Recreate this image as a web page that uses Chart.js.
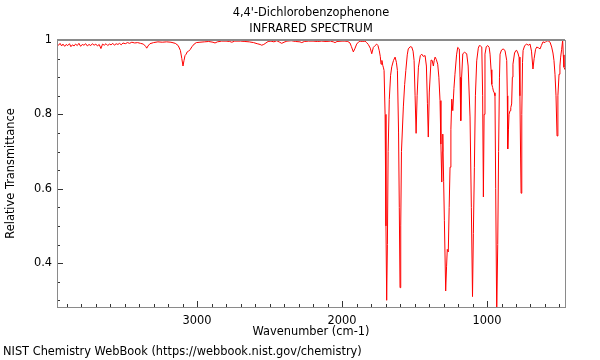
<!DOCTYPE html>
<html>
<head>
<meta charset="utf-8">
<script src="https://cdn.jsdelivr.net/npm/chart.js@4"></script>
<style>
  body { margin: 0; background: #fff; }
</style>
</head>
<body>
<canvas id="irChart" width="600" height="360"></canvas>
<script>
var titleLines = ["4,4'-Dichlorobenzophenone", 'INFRARED SPECTRUM'];
var xTitle = 'Wavenumber (cm-1)';
var yTitle = 'Relative Transmittance';
var footerText = 'NIST Chemistry WebBook (https://webbook.nist.gov/chemistry)';

var xTicks = [3000, 2000, 1000];
var yTicks = [1, 0.8, 0.6, 0.4];

// spectrum (cm-1, transmittance)
var wavenumber = [
  3966, 3955, 3945, 3934, 3925, 3913, 3903, 3892, 3880, 3870, 3860, 3848, 3838, 3826, 3815, 3803,
  3792, 3780, 3768, 3757, 3745, 3733, 3722, 3710, 3698, 3687, 3675, 3663, 3652, 3640, 3628, 3616,
  3605, 3593, 3581, 3570, 3558, 3546, 3535, 3523, 3511, 3495, 3480, 3465, 3450, 3430, 3410, 3390,
  3370, 3355, 3347, 3338, 3325, 3300, 3270, 3240, 3210, 3180, 3150, 3130, 3115, 3105, 3097, 3090,
  3083, 3075, 3068, 3058, 3048, 3035, 3020, 3005, 2980, 2950, 2920, 2890, 2876, 2860, 2830, 2800,
  2775, 2760, 2740, 2700, 2670, 2640, 2610, 2585, 2565, 2554, 2540, 2525, 2510, 2490, 2470, 2450,
  2430, 2416, 2400, 2380, 2350, 2320, 2290, 2278, 2260, 2230, 2200, 2170, 2140, 2110, 2080, 2060,
  2048, 2035, 2000, 1980, 1960, 1945, 1935, 1922, 1910, 1899, 1885, 1876, 1860, 1841, 1830, 1819,
  1805, 1795, 1784, 1772, 1761, 1752, 1743, 1736, 1731, 1725, 1719, 1714, 1710, 1703, 1697, 1692,
  1687, 1682, 1674, 1665, 1657, 1645, 1634, 1625, 1618, 1610, 1605, 1600, 1595, 1590, 1577, 1568,
  1560, 1550, 1543, 1530, 1519, 1510, 1503, 1496, 1489, 1482, 1473, 1460, 1450, 1440, 1427, 1418,
  1411, 1405, 1398, 1386, 1378, 1370, 1364, 1358, 1350, 1340, 1332, 1324, 1318, 1312, 1308, 1305,
  1299, 1294, 1285, 1279, 1274, 1267, 1261, 1255, 1249, 1243, 1236, 1228, 1221, 1210, 1202, 1191,
  1186, 1181, 1175, 1167, 1155, 1140, 1130, 1117, 1108, 1100, 1094, 1087, 1080, 1071, 1060, 1053,
  1045, 1036, 1030, 1025, 1020, 1014, 1005, 995, 985, 979, 972, 967, 961, 956, 950, 945,
  940, 933, 926, 920, 914, 910, 900, 889, 876, 864, 860, 857, 852, 848, 841, 836,
  830, 825, 821, 810, 800, 795, 787, 779, 773, 768, 765, 760, 755, 751, 740, 726,
  715, 703, 693, 683, 675, 665, 657, 645, 634, 625, 614, 600, 590, 579, 565, 554,
  545, 538, 531, 524, 517, 511, 503, 497, 492, 485, 478, 474, 469, 462
];
var transmittance = [
  0.990, 0.986, 0.991, 0.984, 0.989, 0.983, 0.988, 0.985, 0.990, 0.982, 0.987, 0.984, 0.989, 0.985, 0.991, 0.983,
  0.988, 0.986, 0.990, 0.984, 0.988, 0.985, 0.990, 0.986, 0.989, 0.984, 0.988, 0.977, 0.989, 0.986, 0.990, 0.985,
  0.989, 0.987, 0.991, 0.986, 0.990, 0.988, 0.991, 0.987, 0.992, 0.990, 0.993, 0.991, 0.994, 0.992, 0.993, 0.991,
  0.989, 0.983, 0.978, 0.984, 0.990, 0.993, 0.995, 0.994, 0.995, 0.994, 0.991, 0.985, 0.972, 0.950, 0.930, 0.945,
  0.958, 0.962, 0.968, 0.970, 0.974, 0.982, 0.989, 0.993, 0.994, 0.995, 0.996, 0.994, 0.992, 0.995, 0.997, 0.997,
  0.996, 0.994, 0.997, 0.997, 0.996, 0.995, 0.993, 0.990, 0.988, 0.986, 0.988, 0.992, 0.996, 0.997, 0.995, 0.998,
  0.994, 0.991, 0.994, 0.997, 0.998, 0.996, 0.995, 0.993, 0.996, 0.997, 0.997, 0.996, 0.997, 0.996, 0.997, 0.995,
  0.993, 0.996, 0.997, 0.997, 0.996, 0.992, 0.982, 0.968, 0.978, 0.989, 0.995, 0.997, 0.996, 0.997, 0.993, 0.988,
  0.978, 0.963, 0.980, 0.985, 0.989, 0.985, 0.971, 0.955, 0.935, 0.945, 0.932, 0.925, 0.918, 0.800, 0.500, 0.300,
  0.450, 0.700, 0.840, 0.905, 0.928, 0.945, 0.954, 0.940, 0.918, 0.750, 0.550, 0.334, 0.500, 0.700, 0.820, 0.880,
  0.918, 0.960, 0.976, 0.982, 0.981, 0.970, 0.945, 0.850, 0.749, 0.850, 0.927, 0.958, 0.962, 0.956, 0.958, 0.930,
  0.830, 0.739, 0.860, 0.946, 0.945, 0.930, 0.945, 0.954, 0.948, 0.935, 0.900, 0.837, 0.720, 0.618, 0.700, 0.747,
  0.620, 0.514, 0.325, 0.390, 0.437, 0.430, 0.550, 0.658, 0.760, 0.841, 0.810, 0.870, 0.908, 0.960, 0.980, 0.976,
  0.900, 0.783, 0.900, 0.963, 0.967, 0.963, 0.930, 0.793, 0.550, 0.310, 0.480, 0.658, 0.850, 0.944, 0.978, 0.985,
  0.984, 0.981, 0.850, 0.578, 0.800, 0.962, 0.982, 0.985, 0.980, 0.962, 0.920, 0.881, 0.872, 0.863, 0.858, 0.850,
  0.600, 0.260, 0.450, 0.700, 0.900, 0.962, 0.973, 0.976, 0.972, 0.945, 0.850, 0.707, 0.760, 0.800, 0.810, 0.818,
  0.828, 0.900, 0.935, 0.965, 0.972, 0.972, 0.965, 0.954, 0.850, 0.680, 0.588, 0.800, 0.940, 0.972, 0.985, 0.989,
  0.986, 0.989, 0.970, 0.922, 0.950, 0.975, 0.981, 0.979, 0.976, 0.985, 0.995, 0.993, 0.997, 0.998, 0.994, 0.981,
  0.965, 0.945, 0.908, 0.850, 0.742, 0.850, 0.908, 0.930, 0.954, 0.975, 1.000, 0.960, 0.927, 0.920
];

var FONT = '11.4px "DejaVu Sans"';

var frameAndText = {
  id: 'frameAndText',
  afterDraw: function(chart) {
    var ctx = chart.ctx;
    var area = chart.chartArea;
    var xs = chart.scales.x;
    var ys = chart.scales.y;
    ctx.save();

    // inward ticks
    ctx.strokeStyle = '#333';
    ctx.lineWidth = 1;
    ctx.beginPath();
    for (var w = 3900; w >= 500; w -= 100) {
      var px = Math.round(xs.getPixelForValue(w)) + 0.5;
      var len = (w % 1000 === 0) ? 6 : 3;
      ctx.moveTo(px, area.bottom);
      ctx.lineTo(px, area.bottom - len);
    }
    for (var t = 30; t <= 100; t += 5) {
      var py = Math.round(ys.getPixelForValue(t / 100)) + 0.5;
      var ylen = (t % 20 === 0) ? 6 : 3;
      ctx.moveTo(area.left, py);
      ctx.lineTo(area.left + ylen, py);
    }
    ctx.stroke();

    // frame
    ctx.strokeStyle = '#8a8a8a';
    ctx.lineWidth = 1;
    ctx.strokeRect(area.left + 0.5, area.top + 0.5, area.right - area.left, area.bottom - area.top);
    ctx.lineWidth = 2;
    ctx.beginPath();
    ctx.moveTo(area.left, area.top);
    ctx.lineTo(area.right, area.top);
    ctx.stroke();

    // texts
    ctx.fillStyle = '#000';
    ctx.font = FONT;
    ctx.textAlign = 'center';
    ctx.textBaseline = 'middle';
    var cx = (area.left + area.right) / 2;
    ctx.fillText(titleLines[0], cx, 13);
    ctx.fillText(titleLines[1], cx, 29);
    ctx.fillText(xTitle, cx, 332);
    ctx.textAlign = 'left';
    ctx.fillText(footerText, 3, 352);

    ctx.translate(11, (area.top + area.bottom) / 2);
    ctx.rotate(-Math.PI / 2);
    ctx.textAlign = 'center';
    ctx.fillText(yTitle, 0, 0);
    ctx.restore();
  }
};

function generateSpectrum(canvasId) {
  var points = wavenumber.map(function(w, i) {
    return { x: w, y: transmittance[i] };
  });

  new Chart(canvasId, {
    type: 'line',
    data: {
      datasets: [{
        data: points,
        borderColor: 'rgb(255, 0, 0)',
        borderWidth: 1,
        pointRadius: 0,
        tension: 0,
        fill: false
      }]
    },
    options: {
      responsive: false,
      animation: false,
      devicePixelRatio: 1,
      layout: { padding: { top: 40, right: 35, left: 0, bottom: 0 } },
      plugins: {
        legend: { display: false },
        tooltip: { enabled: false },
        title: { display: false }
      },
      scales: {
        x: {
          type: 'linear',
          reverse: true,
          min: 462,
          max: 3966,
          grid: { display: false, drawTicks: false },
          border: { display: false },
          afterBuildTicks: function(scale) {
            scale.ticks = xTicks.map(function(v) { return { value: v }; });
          },
          afterFit: function(scale) { scale.height = 53; },
          ticks: {
            padding: 7,
            color: '#000',
            font: { family: 'DejaVu Sans', size: 11.4 },
            maxRotation: 0,
            callback: function(v) { return String(v); }
          }
        },
        y: {
          min: 0.282,
          max: 1,
          grid: { display: false, drawTicks: false },
          border: { display: false },
          afterBuildTicks: function(scale) {
            scale.ticks = yTicks.map(function(v) { return { value: v }; });
          },
          afterFit: function(scale) { scale.width = 57; },
          ticks: {
            padding: 5,
            color: '#000',
            font: { family: 'DejaVu Sans', size: 11.4 },
            callback: function(v) { return String(v); }
          }
        }
      }
    },
    plugins: [frameAndText]
  });
}

generateSpectrum('irChart');
</script>
</body>
</html>
